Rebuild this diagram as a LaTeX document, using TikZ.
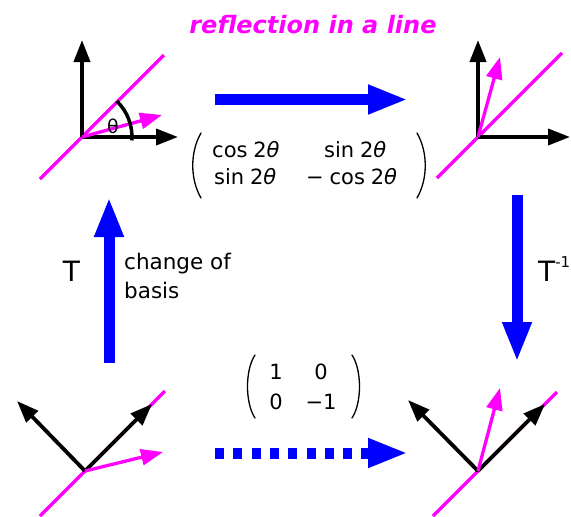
\documentclass[tikz,border=0pt]{standalone}
\usepackage{fontspec}
\setsansfont{DejaVu Sans}
\usetikzlibrary{arrows.meta}
\definecolor{mag}{RGB}{255,0,255}
\definecolor{bl}{RGB}{0,0,255}
\newcommand{\thv}{\textit{θ}}
\begin{document}
\begin{tikzpicture}[x=1pt,y=-1pt,
  axis/.style={line width=3.8pt,-{Triangle[length=22pt,width=16pt]}},
  refl/.style={mag,line width=3.3pt},
  vec/.style={mag,line width=3.3pt,-{Triangle[length=22pt,width=16pt]}},
  big/.style={bl,line width=11pt,-{Triangle[length=40pt,width=27pt]}},
  lbl/.style={font=\sffamily\fontsize{21.5}{26}\selectfont,inner sep=0pt},
  tlbl/.style={font=\sffamily\fontsize{28}{32}\selectfont,inner sep=0pt},
  ent/.style={font=\sffamily\fontsize{21}{25}\selectfont,inner sep=0pt},
  paren/.style={line width=1.3pt,line cap=round}
]
\useasboundingbox (0,0) rectangle (571,517);

% title
\node[font=\sffamily\bfseries\itshape\fontsize{24}{28}\selectfont,text=mag,anchor=base,inner sep=0pt] (title) at (313,33) {reflection in a line};

% top-left figure
\coordinate (O1) at (82,137);
\coordinate (L1a) at (40,179);
\coordinate (L1b) at (164,55);
\coordinate (Y1) at (82,40);
\coordinate (X1) at (178,137);
\coordinate (V1) at (162,115);
\draw[refl] (L1a) -- (L1b);
\draw[axis] (O1) -- (Y1);
\draw[axis] (O1) -- (X1);
\draw[vec] (O1) -- (V1);
\draw[line width=3.5pt] (O1) ++(-46:50) arc[start angle=-46,end angle=4,radius=50];
\node[font=\sffamily\fontsize{19}{21}\selectfont,inner sep=0pt] (th) at (113,126) {θ};

% top-right figure
\coordinate (O2) at (478,137);
\coordinate (L2a) at (437,178);
\coordinate (L2b) at (562,53);
\coordinate (Y2) at (478,40);
\coordinate (X2) at (570,137);
\coordinate (V2) at (500,57);
\draw[refl] (L2a) -- (L2b);
\draw[axis] (O2) -- (Y2);
\draw[axis] (O2) -- (X2);
\draw[vec] (O2) -- (V2);

% bottom-left figure
\coordinate (O3) at (85,471);
\coordinate (L3a) at (40,516);
\coordinate (L3b) at (165,391);
\coordinate (P3) at (17,401);
\coordinate (Q3) at (152,404);
\coordinate (V3) at (163,452);
\draw[refl] (L3a) -- (L3b);
\draw[axis] (O3) -- (P3);
\draw[axis] (O3) -- (Q3);
\draw[vec] (O3) -- (V3);

% bottom-right figure
\coordinate (O4) at (478,471);
\coordinate (L4a) at (433,516);
\coordinate (L4b) at (557,392);
\coordinate (P4) at (408,400);
\coordinate (Q4) at (545,404);
\coordinate (V4) at (500,388);
\draw[refl] (L4a) -- (L4b);
\draw[axis] (O4) -- (P4);
\draw[axis] (O4) -- (Q4);
\draw[vec] (O4) -- (V4);

% big blue arrows
\coordinate (a1) at (215,99.5);
\coordinate (a2) at (408,99.5);
\draw[big] (a1) -- (a2);
\coordinate (b1) at (517,195);
\coordinate (b2) at (517,362);
\draw[big] (b1) -- (b2);
\coordinate (c1) at (109,363);
\coordinate (c2) at (109,197);
\draw[big] (c1) -- (c2);
\coordinate (d1) at (215,453);
\coordinate (d2) at (408,453);
\draw[big,dash pattern=on 9pt off 9.3pt] (d1) -- (d2);

% labels
\node[tlbl,anchor=base] (T) at (71.5,281) {T};
\node[lbl,anchor=base west,align=left] (cb1) at (124,269) {change of};
\node[lbl,anchor=base west,align=left] (cb2) at (124,298) {basis};
\node[tlbl,anchor=base west] (Ti) at (538,281) {T\raisebox{0.5em}{\fontsize{15}{17}\selectfont -1}};

% matrix 1
\node[ent,anchor=base west] (m11) at (212,157) {cos\;2\thv};
\node[ent,anchor=base west] (m12) at (324,157) {sin\;2\thv};
\node[ent,anchor=base west] (m21) at (214,184) {sin\;2\thv};
\node[ent,anchor=base west] (m22) at (306,184) {−\;cos\;2\thv};
\draw[paren] (201,133) .. controls (190,152) and (190,179) .. (201,198);
\draw[paren] (417,133) .. controls (428,152) and (428,179) .. (417,198);

% matrix 2
\node[ent,anchor=base] (n11) at (276,379) {1};
\node[ent,anchor=base] (n12) at (321,379) {0};
\node[ent,anchor=base] (n21) at (276,409) {0};
\node[ent,anchor=base] (n22) at (321,409) {−1};
\draw[paren] (255,355) .. controls (245,370) and (245,403) .. (255,418);
\draw[paren] (352,355) .. controls (362,370) and (362,403) .. (352,418);
\end{tikzpicture}
\end{document}
